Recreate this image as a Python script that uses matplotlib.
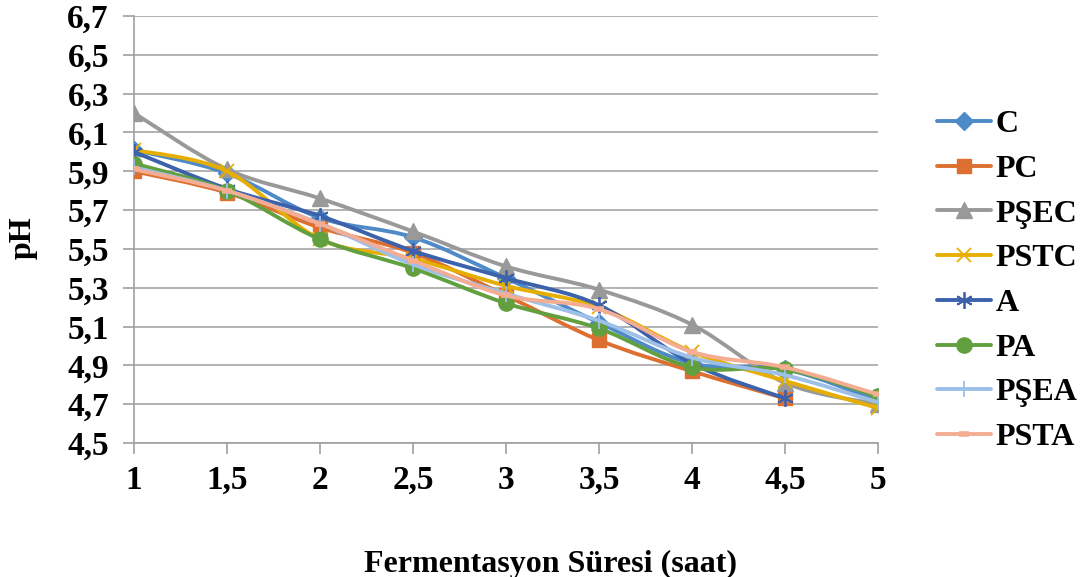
import numpy as np
import matplotlib.pyplot as plt
from matplotlib.path import Path
from matplotlib.patches import PathPatch
from matplotlib.lines import Line2D

plt.rcParams['font.family'] = ['Liberation Serif', 'DejaVu Serif']
plt.rcParams['font.weight'] = 'bold'

hours = [1, 1.5, 2, 2.5, 3, 3.5, 4, 4.5, 5]
hour_labels = ['1', '1,5', '2', '2,5', '3', '3,5', '4', '4,5', '5']

ph_C = [6.01, 5.89, 5.66, 5.56, 5.35, 5.12, 4.91, 4.88, 4.72]
ph_PC = [5.90, 5.79, 5.61, 5.48, 5.26, 5.03, 4.87, 4.73, np.nan]
ph_PSEC = [6.20, 5.91, 5.76, 5.59, 5.41, 5.29, 5.11, 4.81, 4.70]
ph_PSTC = [6.01, 5.90, 5.55, 5.45, 5.31, 5.20, 4.97, 4.82, 4.68]
ph_A = [6.00, 5.81, 5.67, 5.49, 5.35, 5.21, 4.91, 4.73, np.nan]
ph_PA = [5.94, 5.80, 5.55, 5.40, 5.22, 5.09, 4.89, 4.88, 4.74]
ph_PSEA = [5.92, 5.80, 5.63, 5.42, 5.27, 5.13, 4.94, 4.85, 4.71]
ph_PSTA = [5.91, 5.80, 5.63, 5.44, 5.26, 5.19, 4.97, 4.89, 4.75]

y_ticks = [4.5, 4.7, 4.9, 5.1, 5.3, 5.5, 5.7, 5.9, 6.1, 6.3, 6.5, 6.7]

# name, values, colour, marker, marker size, marker edge width
series = [
    ('C', ph_C, '#4E8AC8', 'D', 9, 1),
    ('PC', ph_PC, '#DD7030', 's', 10, 1),
    ('PŞEC', ph_PSEC, '#999999', '^', 11, 1),
    ('PSTC', ph_PSTC, '#E6AE00', 'x', 10, 1.3),
    ('A', ph_A, '#3C62AC', (6, 2, 0), 12, 1.3),
    ('PA', ph_PA, '#62A03F', 'o', 11, 1),
    ('PŞEA', ph_PSEA, '#9DC0E8', '|', 12, 1.3),
    ('PSTA', ph_PSTA, '#F4AC93', '_', 7, 4),
]


def smooth_path(xs, ys):
    # cubic Bezier through the points, same tension as spreadsheet smoothing
    pts = np.array([(x, y) for x, y in zip(xs, ys) if not np.isnan(y)])
    n = len(pts)
    verts = [pts[0]]
    codes = [Path.MOVETO]
    for i in range(n - 1):
        p0 = pts[max(i - 1, 0)]
        p1 = pts[i]
        p2 = pts[i + 1]
        p3 = pts[min(i + 2, n - 1)]
        c1 = p1 + (p2 - p0) / 6
        c2 = p2 - (p3 - p1) / 6
        verts += [c1, c2, p2]
        codes += [Path.CURVE4] * 3
    return Path(verts, codes)


fig = plt.figure(figsize=(10.83, 5.77), dpi=100)
ax = fig.add_axes([0.1237, 0.2322, 0.687, 0.7401])

handles = []
for k, (name, vals, color, marker, ms, mew) in enumerate(series):
    z = 3 + k
    ax.add_patch(PathPatch(smooth_path(hours, vals), fill=False,
                           edgecolor=color, lw=2.8, capstyle='round',
                           joinstyle='round', zorder=z))
    ax.plot(hours, vals, linestyle='none', marker=marker, ms=ms,
            color=color, mec=color, mew=mew, zorder=z + 0.5)
    handles.append(Line2D([], [], color=color, lw=2.8, marker=marker,
                          ms=ms, mec=color, mew=mew,
                          solid_capstyle='round', label=name))

ax.set_xlim(1, 5)
ax.set_ylim(4.5, 6.7)
ax.set_xticks(hours)
ax.set_xticklabels(hour_labels)
ax.set_yticks(y_ticks)
ax.set_yticklabels([f'{v:.1f}'.replace('.', ',') for v in y_ticks])
ax.tick_params(axis='both', labelsize=24, colors='#A0A0A0',
               labelcolor='black', length=8, width=1.2)
ax.tick_params(axis='x', pad=8)
ax.tick_params(axis='y', pad=10)
for lab in ax.get_xticklabels() + ax.get_yticklabels():
    lab.set_fontweight('bold')

ax.grid(axis='y', color='#A6A6A6', lw=1.2)
ax.set_axisbelow(True)
for side in ['top', 'right']:
    ax.spines[side].set_visible(False)
for side in ['left', 'bottom']:
    ax.spines[side].set_color('#A0A0A0')
    ax.spines[side].set_linewidth(1.2)
ax.spines['left'].set_bounds(4.5, 6.7)

ax.set_xlabel('Fermentasyon Süresi (saat)', fontsize=23, fontweight='bold')
ax.xaxis.set_label_coords(0.5605, -0.25)
ax.set_ylabel('pH', fontsize=23, fontweight='bold')
ax.yaxis.set_label_coords(-0.129, 0.482)

fig.legend(handles=handles, loc='center left',
           bbox_to_anchor=(0.853, 0.513), frameon=False,
           prop={'size': 23, 'weight': 'bold'}, handlelength=1.7,
           handletextpad=0.15, labelspacing=0.48, borderaxespad=0)

fig.savefig('out.png', dpi=100)
